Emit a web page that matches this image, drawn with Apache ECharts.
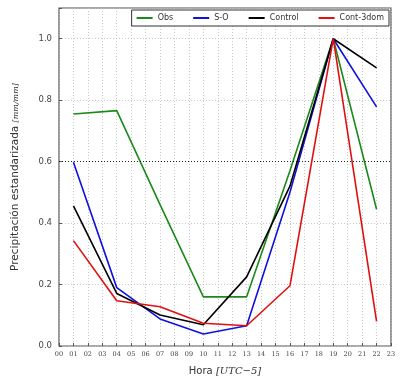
<!DOCTYPE html>
<html><head><meta charset="utf-8">
<script src="https://cdn.jsdelivr.net/npm/echarts@6/dist/echarts.min.js"></script>
<style>html,body{margin:0;padding:0;background:#fff}#c{width:403px;height:381px}</style>
</head><body><div id="c"></div>
<script>
const hours = [1, 4, 7, 10, 13, 16, 19, 22];
const obs = [0.755, 0.766, 0.46, 0.16, 0.16, 0.57, 1.0, 0.445];
const so = [0.598, 0.19, 0.088, 0.039, 0.066, 0.50, 1.0, 0.778];
const control = [0.456, 0.171, 0.101, 0.069, 0.225, 0.52, 1.0, 0.905];
const cont3dom = [0.343, 0.147, 0.128, 0.074, 0.066, 0.196, 1.0, 0.08];
const seriesNames = ['Obs', 'S-O', 'Control', 'Cont-3dom'];
const colors = ['#1a8a1a', '#1010e0', '#000000', '#e01010'];
const yTicks = [0.0, 0.2, 0.4, 0.6, 0.8, 1.0];

const allData = [obs, so, control, cont3dom];
const chart = echarts.init(document.getElementById('c'));
chart.setOption({
  animation: false,
  backgroundColor: '#fff',
  grid: {left: 59, right: 12, top: 8, bottom: 33, show: true, borderColor: '#555', borderWidth: 1.2},
  legend: {
    data: seriesNames, right: 14, top: 10,
    orient: 'horizontal', itemWidth: 16, itemHeight: 2, itemGap: 20,
    icon: 'rect', borderColor: '#333', borderWidth: 1, padding: [4, 5],
    textStyle: {fontFamily: 'DejaVu Sans', fontSize: 8, color: '#333'}, backgroundColor: '#fff'
  },
  xAxis: {
    type: 'value', min: 0, max: 23, interval: 1,
    name: '{a|Hora }{b|[UTC−5]}', nameLocation: 'middle', nameGap: 20,
    nameTextStyle: {rich: {a: {fontFamily: 'DejaVu Sans', fontSize: 10, color: '#333'}, b: {fontFamily: 'DejaVu Serif', fontStyle: 'italic', fontSize: 10, color: '#333'}}},
    axisLine: {show: false},
    axisTick: {inside: true, length: 3, lineStyle: {color: '#555'}},
    axisLabel: {fontFamily: 'DejaVu Serif', fontSize: 6.5, color: '#444', margin: 5,
      formatter: v => (v < 10 ? '0' : '') + v},
    splitLine: {show: true, lineStyle: {color: '#bbb', type: [1, 2], width: 0.8}}
  },
  yAxis: {
    type: 'value', min: 0, max: 1.1, interval: 0.2,
    name: '{a|Precipitación estandarizada }{b|[mm/mm]}', nameLocation: 'middle', nameGap: 38,
    nameTextStyle: {rich: {a: {fontFamily: 'DejaVu Sans', fontSize: 10.5, color: '#333'}, b: {fontFamily: 'DejaVu Serif', fontStyle: 'italic', fontSize: 8, color: '#333'}}},
    axisLine: {show: false},
    axisTick: {inside: true, length: 3, lineStyle: {color: '#555'}},
    axisLabel: {fontFamily: 'DejaVu Sans', fontSize: 8.5, color: '#444', margin: 7,
      formatter: v => yTicks.some(t => Math.abs(t - v) < 1e-6) ? v.toFixed(1) : ''},
    splitLine: {show: true, lineStyle: {color: '#bbb', type: [1, 2], width: 0.8}}
  },
  series: seriesNames.map((n, i) => ({
    name: n, type: 'line', showSymbol: false, symbol: 'none',
    data: hours.map((h, j) => [h, allData[i][j]]),
    lineStyle: {color: colors[i], width: 1.6}, itemStyle: {color: colors[i]},
    z: 2 + i,
    markLine: i === 0 ? {silent: true, symbol: 'none', label: {show: false},
      lineStyle: {color: '#222', type: [1, 2], width: 1}, data: [{yAxis: 0.6}]} : undefined
  }))
});
</script></body></html>
